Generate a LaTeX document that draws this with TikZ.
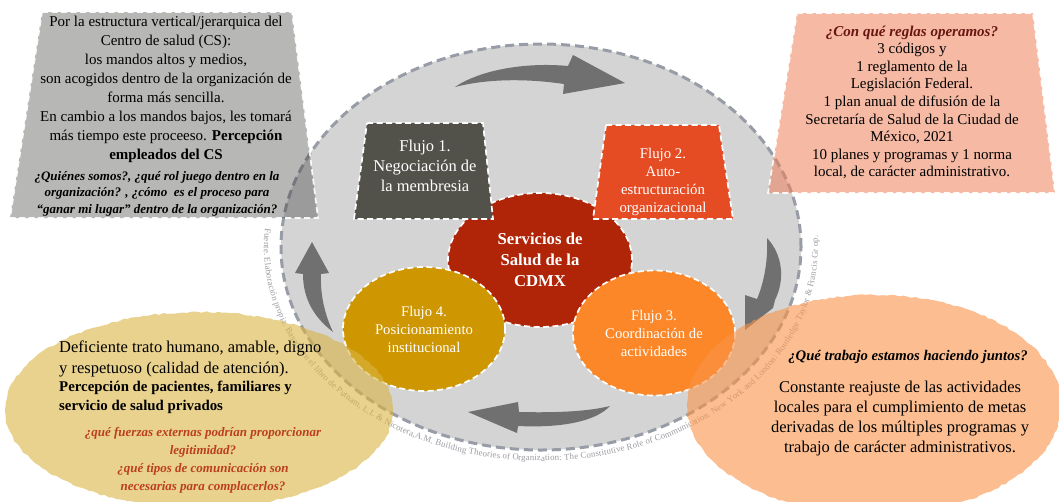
\documentclass[tikz,border=0pt]{standalone}
\usepackage{fontspec}
\setmainfont{Liberation Serif}
\usetikzlibrary{shapes.geometric,decorations.text,decorations.pathmorphing}
\definecolor{bigfill}{RGB}{212,212,212}
\definecolor{bigline}{RGB}{152,156,166}
\definecolor{srcgray}{RGB}{155,155,162}
\definecolor{arrowgray}{RGB}{112,112,112}
\definecolor{tlfill}{RGB}{60,60,58}
\definecolor{trfill}{RGB}{237,128,91}
\definecolor{blfill}{RGB}{217,180,67}
\definecolor{brfill}{RGB}{250,147,72}
\definecolor{flowone}{RGB}{82,82,74}
\definecolor{flowtwo}{RGB}{230,76,36}
\definecolor{centerred}{RGB}{176,36,8}
\definecolor{flowfour}{RGB}{206,150,0}
\definecolor{flowthree}{RGB}{252,135,40}
\definecolor{qdark}{RGB}{105,22,18}
\definecolor{qred}{RGB}{188,62,32}
\begin{document}
\begin{tikzpicture}[x=1pt,y=1pt,
  wdash/.style={draw=white, line width=1.7pt, dash pattern=on 6pt off 3.5pt},
  flowtxt/.style={text=white, align=center, inner sep=0pt},
  flowell/.style={ellipse, wdash, inner sep=0pt, text=white, align=center},
  curvearrow/.style={fill=arrowgray},
  boxtxt/.style={align=center, inner sep=0pt, text=black},
  outerbox/.style={fill opacity=0.6, wdash, draw opacity=0.9},
  roughedge/.style={decorate, decoration={random steps, segment length=4pt, amplitude=0.9pt}}
]
\useasboundingbox (0,0) rectangle (1059,-501);
\clip (0,0) rectangle (1059,-501);
\fill[white] (0,0) rectangle (1059,-501);

% big grey ellipse
\draw[fill=bigfill, draw=bigline, line width=3pt, dash pattern=on 9pt off 5pt]
  (541,-247) ellipse [x radius=260, y radius=203];

% source text along the ellipse
\path[decorate, decoration={text along path,
  text={|\fontsize{8.8}{8.8}\selectfont|Fuente. Elaboración propia. Basado en el libro de Putnam, L.L {\&} Nicotera,A.M. Building Theories of Organization: The Constitutive Role of Communication. New York and London: Routledge Taylor {\&} Francis Gr op.},
  text align=fit to path, text color=srcgray}]
  (541,-247) ++(175:277 and 214) arc[start angle=175, end angle=363, x radius=277, y radius=214];

% curved arrows
\fill[curvearrow] (455,-87) .. controls (480,-70) and (525,-62) .. (568,-66) -- (573,-55) -- (625,-83) -- (563,-94) -- (564,-84) .. controls (530,-79) and (490,-78) .. (455,-87) -- cycle;
\fill[curvearrow] (767,-238) .. controls (783,-255) and (785,-280) .. (775,-300) -- (773,-308) -- (745,-330) -- (745,-295) -- (757,-299) .. controls (765,-280) and (768,-258) .. (767,-238) -- cycle;
\fill[curvearrow] (610,-406) .. controls (595,-422) and (560,-428) .. (518,-426) -- (517,-433) -- (468,-412) -- (518,-402) -- (519,-412) .. controls (560,-413) and (590,-411) .. (610,-406) -- cycle;
\fill[curvearrow] (333,-332) .. controls (315,-318) and (303,-300) .. (303,-274) -- (295,-273) -- (312,-242) -- (329,-273) -- (321,-274) .. controls (320,-295) and (325,-315) .. (333,-332) -- cycle;

% inner flows
\node[flowell, fill=centerred, minimum width=184, minimum height=134,
  font=\fontsize{16.7}{21}\selectfont\bfseries] (center) at (540,-260) {Servicios de\\Salud de la\\CDMX};
\draw[wdash, fill=flowone] (367,-123) -- (483,-123) -- (493,-219) -- (354,-219) -- cycle;
\node[flowtxt, font=\fontsize{16.5}{20}\selectfont] (flow1) at (425,-166) {Flujo 1.\\Negociación de\\la membresia};
\draw[wdash, fill=flowtwo] (606,-125) -- (719,-125) -- (733,-219) -- (593,-219) -- cycle;
\node[flowtxt, font=\fontsize{14.8}{18}\selectfont] (flow2) at (663,-182) {Flujo 2.\\Auto-\\estructuración\\organizacional};
\node[flowell, fill=flowfour, minimum width=162, minimum height=124,
  font=\fontsize{14.7}{18}\selectfont] (flow4) at (424,-329) {Flujo 4.\\Posicionamiento\\institucional};
\node[flowell, fill=flowthree, minimum width=162, minimum height=125,
  font=\fontsize{14.7}{18}\selectfont] (flow3) at (654,-333) {Flujo 3.\\Coordinación de\\actividades};

% outer boxes
\path[outerbox, fill=tlfill, fill opacity=0.37] (42,-12) -- (292,-12) -- (318,-218) -- (10,-218) -- cycle;
\path[outerbox, fill=trfill, fill opacity=0.55] (797,-13) -- (1033,-13) -- (1055,-193) -- (768,-193) -- cycle;
\fill[blfill, fill opacity=0.6, roughedge] (199,-410) ellipse [x radius=194, y radius=98];
\fill[brfill, fill opacity=0.6, roughedge] (874,-405) ellipse [x radius=187, y radius=110];

% texts of outer boxes
\node[boxtxt, font=\fontsize{15}{19}\selectfont] (tltext) at (166,-89.5) {Por la estructura vertical/jerarquica del\\Centro de salud (CS):\\los mandos altos y medios,\\son acogidos dentro de la organización de\\forma más sencilla.\\En cambio a los mandos bajos, les tomará\\más tiempo este proceeso. \textbf{Percepción}\\\textbf{empleados del CS}};
\node[boxtxt, font=\fontsize{13}{16.5}\selectfont\bfseries\itshape] (tlq) at (157,-193.5) {¿Quiénes somos?, ¿qué rol juego dentro en la\\organización? , ¿cómo~ es el proceso para\\“ganar mi lugar” dentro de la organización?};
\node[boxtxt, font=\fontsize{15}{17.6}\selectfont] (trtext) at (912,-102.5) {\textcolor{qdark}{\bfseries\itshape ¿Con qué reglas operamos?}\\3 códigos y\\1 reglamento de la\\Legislación Federal.\\1 plan anual de difusión de la\\Secretaría de Salud de la Ciudad de\\México, 2021\\10 planes y programas y 1 norma\\local, de carácter administrativo.};
\node[anchor=west, align=left, inner sep=0pt, font=\fontsize{16.5}{21}\selectfont] (bltext) at (59,-358.5) {Deficiente trato humano, amable, digno\\y respetuoso (calidad de atención).};
\node[anchor=west, align=left, inner sep=0pt, font=\fontsize{14.85}{19}\selectfont\bfseries] (blbold) at (59,-397.5) {Percepción de pacientes, familiares y\\servicio de salud privados};
\node[boxtxt, text=qred, font=\fontsize{13}{18}\selectfont\bfseries\itshape] (blq) at (203,-460) {¿qué fuerzas externas podrían proporcionar\\legitimidad?\\¿qué tipos de comunicación son\\necesarias para complacerlos?};
\node[boxtxt, font=\fontsize{14.7}{18}\selectfont\bfseries\itshape] (brq) at (908,-357) {¿Qué trabajo estamos haciendo juntos?};
\node[boxtxt, font=\fontsize{16.5}{20}\selectfont] (brtext) at (900,-419) {Constante reajuste de las actividades\\locales para el cumplimiento de metas\\derivadas de los múltiples programas y\\trabajo de carácter administrativos.};
\end{tikzpicture}
\end{document}
